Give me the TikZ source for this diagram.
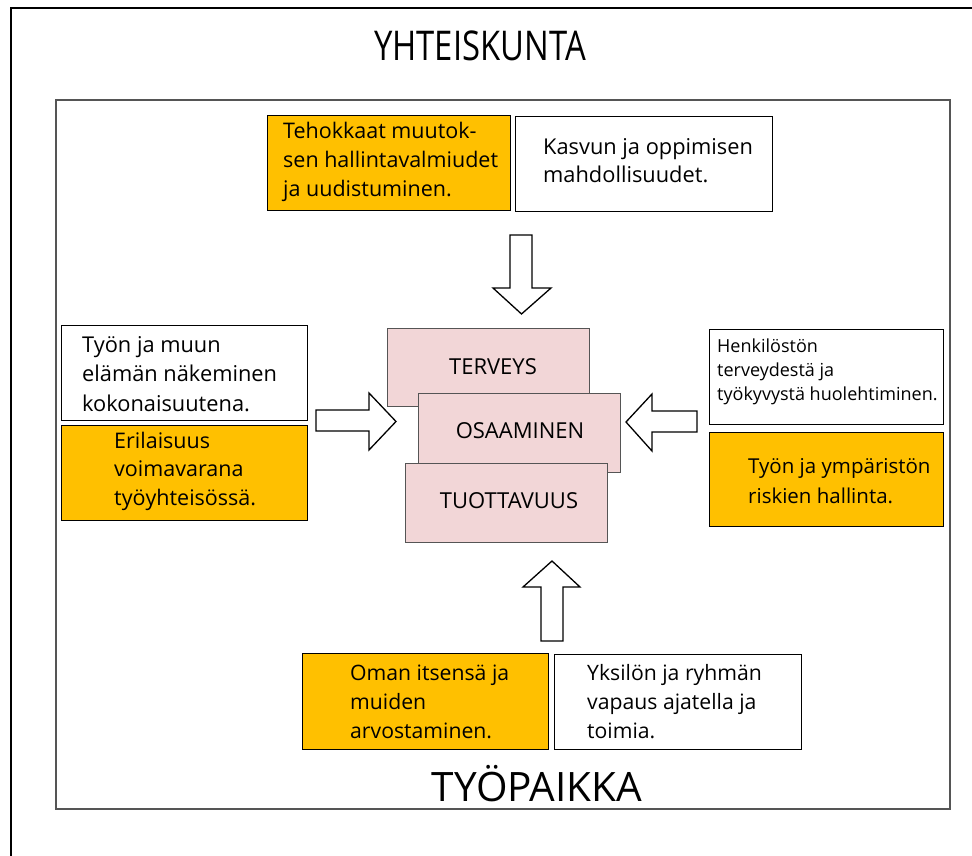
\documentclass[tikz,border=0pt]{standalone}
\usepackage{fontspec}
\setmainfont{Open Sans}
\definecolor{gold}{HTML}{FFC000}
\definecolor{pinkbox}{HTML}{F2D6D7}
\definecolor{frame}{HTML}{555555}
\newcommand{\ml}[3]{{\fontsize{#1}{#2}\selectfont\begin{tabular}[t]{@{}l@{}}#3\end{tabular}}}
\tikzset{
  obox/.style={draw=black, line width=1.4pt, fill=gold, rectangle, inner sep=0pt, anchor=north west},
  wbox/.style={draw=black, line width=1.4pt, fill=white, rectangle, inner sep=0pt, anchor=north west},
  pbox/.style={draw=frame, line width=1.4pt, fill=pinkbox, rectangle, inner sep=0pt, anchor=north west},
  txt/.style={inner sep=0pt, anchor=base west, text=black},
  plabel/.style={inner sep=0pt, anchor=base, font=\fontsize{22}{26}\selectfont},
  blockarrow/.style={draw=black, fill=white, line width=1.3pt, line join=miter}
}
\begin{document}
\begin{tikzpicture}[x=1pt,y=-1pt]
\useasboundingbox (0,0) rectangle (972,856);
\clip (0,0) rectangle (972,856);
\fill[white] (0,0) rectangle (972,856);
% outer frame
\draw[line width=2pt, black] (11,8) rectangle (1000,900);
\node[inner sep=0pt, anchor=base] (soc) at (480,61) {\scalebox{0.8}[1]{\fontsize{41}{46}\selectfont YHTEISKUNTA}};
% inner frame
\draw[line width=2pt, frame] (56,100) rectangle (950,809);
\node[inner sep=0pt, anchor=base] (work) at (537,801) {\fontsize{40.5}{46}\selectfont TYÖPAIKKA};

% top boxes
\node[obox, minimum width=243pt, minimum height=95pt] (o1) at (267,115) {};
\node[txt] (t1) at (283,139) {\ml{21.5}{29}{Tehokkaat muutok-\\sen hallintavalmiudet\\ja uudistuminen.}};
\node[wbox, minimum width=257pt, minimum height=95pt] (w1) at (515,116) {};
\node[txt] (t2) at (543,155) {\ml{21.8}{28}{Kasvun ja oppimisen\\mahdollisuudet.}};

% left boxes
\node[wbox, minimum width=246pt, minimum height=95pt] (w2) at (61,325) {};
\node[txt] (t3) at (82,352) {\ml{21.8}{29.5}{Työn ja muun\\elämän näkeminen\\kokonaisuutena.}};
\node[obox, minimum width=246pt, minimum height=95pt] (o2) at (61,425) {};
\node[txt] (t4) at (114,448) {\ml{21.5}{28.5}{Erilaisuus\\voimavarana\\työyhteisössä.}};

% right boxes
\node[wbox, minimum width=234pt, minimum height=95pt] (w3) at (709,329) {};
\node[txt] (t5) at (717,352) {\ml{18}{24}{Henkilöstön\\terveydestä ja\\työkyvystä huolehtiminen.}};
\node[obox, minimum width=234pt, minimum height=94pt] (o3) at (709,432) {};
\node[txt] (t6) at (748,473) {\ml{20.5}{30}{Työn ja ympäristön\\riskien hallinta.}};

% bottom boxes
\node[obox, minimum width=246pt, minimum height=96pt] (o4) at (302,653) {};
\node[txt] (t7) at (350,680) {\ml{21.2}{29}{Oman itsensä ja\\muiden\\arvostaminen.}};
\node[wbox, minimum width=247pt, minimum height=95pt] (w4) at (554,654) {};
\node[txt] (t8) at (587,680) {\ml{21.2}{29}{Yksilön ja ryhmän\\vapaus ajatella ja\\toimia.}};

% centre stack
\node[pbox, minimum width=202pt, minimum height=78pt] (terv) at (387,328) {};
\node[plabel] (tervl) at (493,374) {TERVEYS};
\node[pbox, minimum width=202pt, minimum height=79pt] (osaa) at (418,393) {};
\node[plabel] (osaal) at (520,438) {OSAAMINEN};
\node[pbox, minimum width=202pt, minimum height=79pt] (tuot) at (405,463) {};
\node[plabel] (tuotl) at (509,508) {TUOTTAVUUS};

% block arrows
\draw[blockarrow] (510,235) -- (532,235) -- (532,288) -- (551,288) -- (521.5,314) -- (493,288) -- (510,288) -- cycle;
\draw[blockarrow] (316,410) -- (369,410) -- (369,393) -- (396,421.5) -- (369,450) -- (369,431) -- (316,431) -- cycle;
\draw[blockarrow] (697,411) -- (652,411) -- (652,394) -- (626,422) -- (652,451) -- (652,432) -- (697,432) -- cycle;
\draw[blockarrow] (541,641) -- (541,587) -- (523,587) -- (552,561) -- (580,587) -- (563,587) -- (563,641) -- cycle;
\end{tikzpicture}
\end{document}
